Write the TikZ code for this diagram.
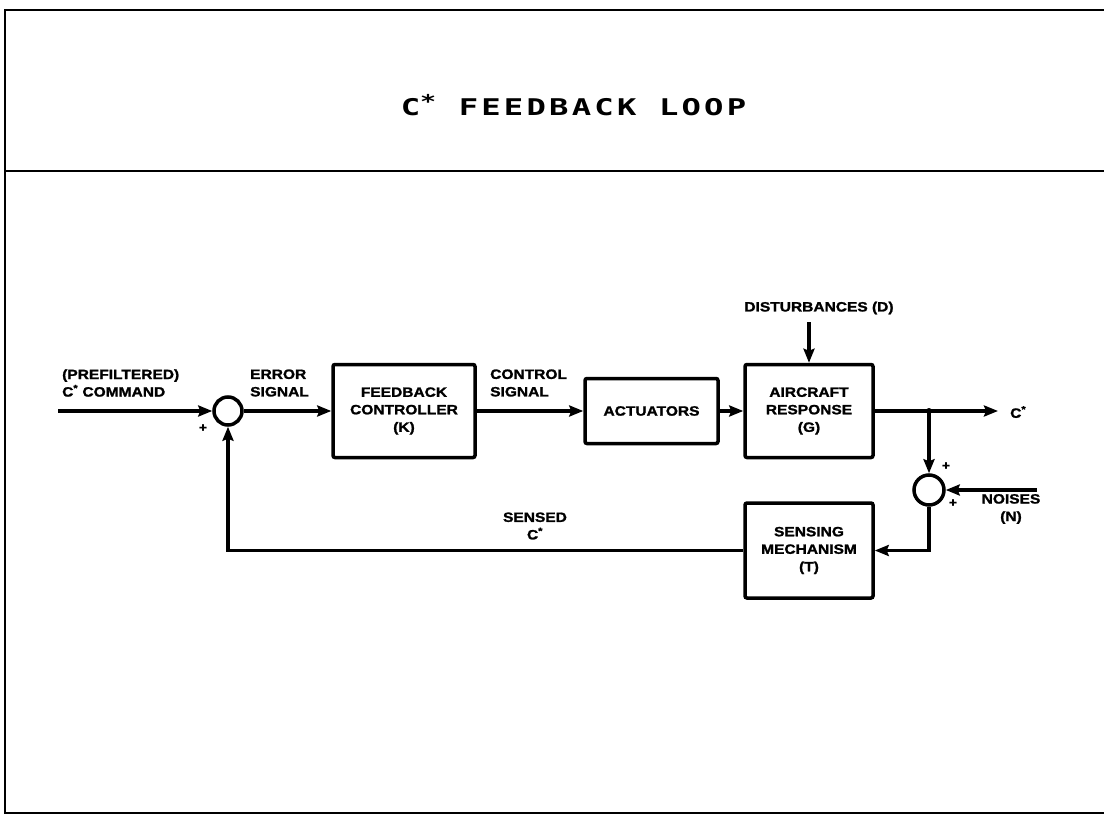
\documentclass[tikz,border=0pt]{standalone}
\usepackage{fontspec}
\usepackage{graphicx}
\usetikzlibrary{arrows.meta}
\newfontfamily\labfont[FakeStretch=1.15, BoldFeatures={FakeBold=1.5}]{Liberation Sans}
\newfontfamily\titlefont[FakeStretch=1.4,LetterSpace=14]{DejaVu Sans Mono}
\tikzset{
  lab/.style={font=\labfont\bfseries\fontsize{13.5}{17.5}\selectfont, inner sep=0pt, align=center},
  blk/.style={lab, draw, line width=3.5pt, rounded corners=2pt},
  sumj/.style={circle, draw, line width=3.5pt, minimum size=28pt, inner sep=0pt},
  conn/.style={line width=3.4pt, -{Stealth[length=14pt,width=11pt,inset=2pt]}},
  wire/.style={line width=3.4pt},
  frame/.style={line width=2.8pt},
  sgn/.style={font=\labfont\bfseries\fontsize{12}{12}\selectfont, inner sep=0pt}
}
\begin{document}
\begin{tikzpicture}[x=1pt,y=-1pt]
\useasboundingbox (0,0) rectangle (1104,816);
% frame
\draw[frame] (1104,10) -- (5,10) -- (5,813) -- (1104,813);
\draw[frame] (5,171) -- (1104,171);
\node[font=\titlefont\bfseries\fontsize{23}{27}\selectfont, inner sep=0pt] (title) at (573.5,105.5)
  {C\raisebox{0.3em}{\fontsize{19}{19}\selectfont\bfseries *} FEEDBACK LOOP};
% blocks
\node[sumj] (sum1) at (228,411) {};
\node[blk, minimum width=142pt, minimum height=93pt] (fc) at (404,411) {FEEDBACK\\CONTROLLER\\(K)};
\node[blk, minimum width=133pt, minimum height=65pt] (act) at (651.5,411) {ACTUATORS};
\node[blk, minimum width=128pt, minimum height=93pt] (ac) at (809,411) {AIRCRAFT\\RESPONSE\\(G)};
\node[blk, minimum width=128pt, minimum height=95pt] (sm) at (809,550.5) {SENSING\\MECHANISM\\(T)};
\node[sumj, minimum size=30pt] (sum2) at (929,490) {};
% coordinates
\coordinate (in) at (58,411);
\coordinate (br) at (929,411);
\coordinate (cout) at (998,411);
\coordinate (nz) at (1037,490);
\coordinate (dist) at (809,322);
% labels
\node[lab, align=left, anchor=west] (lprefilt) at (62,383) {(PREFILTERED)\\C\textsuperscript{*} COMMAND};
\node[lab, align=left, anchor=west] (lerr) at (250,383) {ERROR\\SIGNAL};
\node[lab, align=left, anchor=west] (lctl) at (490,383) {CONTROL\\SIGNAL};
\node[lab] (ldist) at (819,308) {DISTURBANCES (D)};
\node[lab, anchor=west] (lout) at (1010,412) {C\textsuperscript{*}};
\node[lab] (lnoise) at (1011,509) {NOISES\\(N)};
\node[lab] (lsensed) at (535,526) {SENSED\\C\textsuperscript{*}};
\node[sgn] (p1) at (203,428) {+};
\node[sgn] (p2) at (946,466) {+};
\node[sgn] (p3) at (953,503) {+};
% connectors
\draw[conn] (in) -- (sum1.west);
\draw[conn] (sum1.east) -- (fc.west);
\draw[conn] (fc.east) -- (act.west);
\draw[conn] (act.east) -- (ac.west);
\draw[conn] (dist) -- (ac.north);
\draw[wire] (ac.east) -- (br);
\draw[conn] (br) -- (cout);
\fill (br) circle (3pt);
\draw[conn] (br) -- (sum2.north);
\draw[conn] (nz) -- (sum2.east);
\draw[conn] (sum2.south) |- (sm.east);
\draw[conn] (sm.west) -| (sum1.south);
\end{tikzpicture}
\end{document}
